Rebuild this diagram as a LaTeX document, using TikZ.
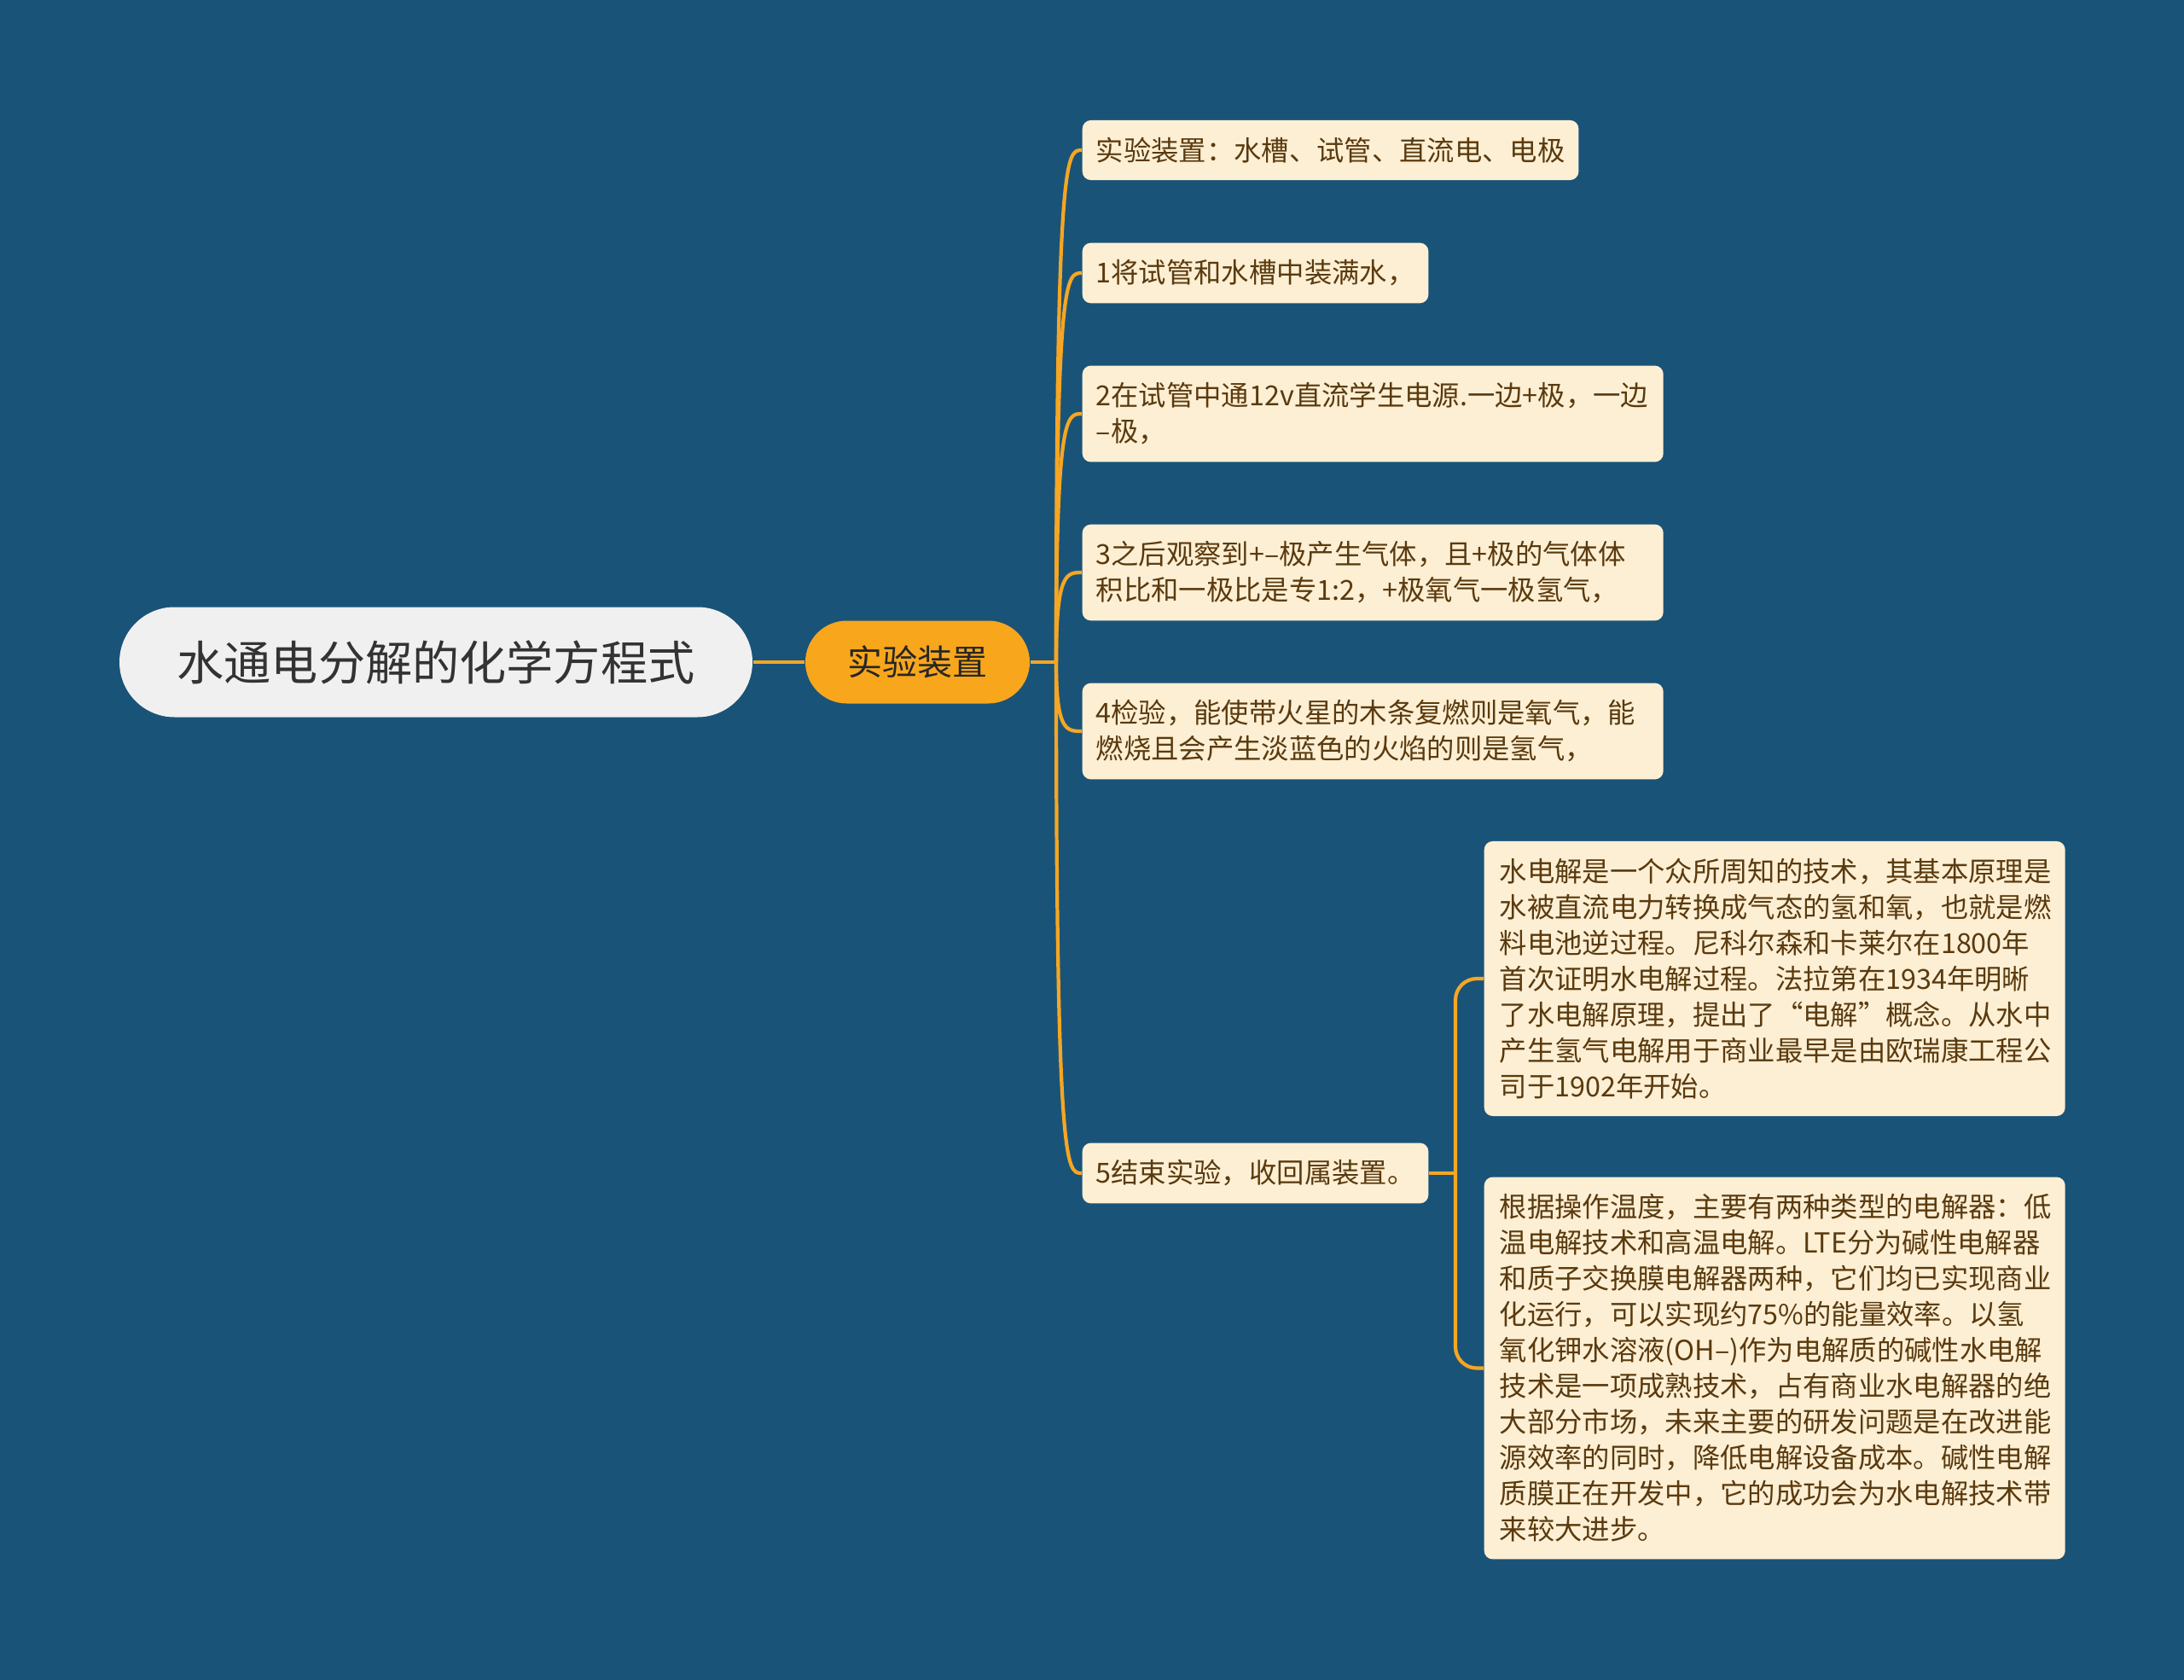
\documentclass[tikz,border=0pt]{standalone}
\usepackage{fontspec}
\setmainfont{Noto Sans CJK SC}
\usepackage{tikz}
\usepackage{xcolor}
\definecolor{bgblue}{HTML}{1A5378}
\definecolor{branch}{HTML}{F5A623}
\definecolor{leaffill}{HTML}{FDEFD4}
\definecolor{leaftext}{HTML}{5A3A0E}
\definecolor{rootfill}{HTML}{F0F0F0}
\definecolor{mainfill}{HTML}{F8A61C}
\tikzset{
    root-box/.style = {fill=rootfill, text=black!80, rectangle, rounded corners=0.645cm, minimum width=7.42cm, minimum height=1.29cm, font=\fontsize{15.7}{18}\selectfont},
    main-box/.style = {fill=mainfill, text=black!85, rectangle, rounded corners=0.485cm, minimum width=2.63cm, minimum height=0.97cm, font=\fontsize{11.7}{14}\selectfont},
    leaf-box/.style = {fill=leaffill, text=leaftext, rectangle, rounded corners=0.1cm, inner xsep=0.16cm, inner ysep=0.2cm, anchor=west, align=left, font=\fontsize{9.2}{11.95}\selectfont},
    note-box/.style = {leaf-box, inner xsep=0.18cm, text width=6.45cm},
    link/.style = {draw=branch, line width=1.2pt},
}

\begin{document}
\begin{tikzpicture}
\fill[bgblue] (0,0) rectangle (25.6,-19.69);
\useasboundingbox (0,0) rectangle (25.6,-19.69);

\node[root-box] (root) at (5.11,-7.76) {水通电分解的化学方程式};
\node[main-box] (main) at (10.755,-7.76) {实验装置};
\coordinate (hub) at (12.38,-7.76);

\node[leaf-box] (c1) at (12.68,-1.76) {实验装置：水槽、试管、直流电、电极};
\node[leaf-box] (c2) at (12.68,-3.20) {1将试管和水槽中装满水，};
\node[leaf-box, text width=6.49cm] (c3) at (12.68,-4.85) {2在试管中通12v直流学生电源.一边+极，一边\\–极，};
\node[leaf-box, text width=6.49cm] (c4) at (12.68,-6.71) {3之后观察到+–极产生气体，且+极的气体体\\积比和一极比是专1:2，+极氧气一极氢气，};
\node[leaf-box, text width=6.49cm] (c5) at (12.68,-8.57) {4检验，能使带火星的木条复燃则是氧气，能\\燃烧且会产生淡蓝色的火焰的则是氢气，};
\node[leaf-box] (c6) at (12.68,-13.75) {5结束实验，收回属装置。};
\coordinate (hub2) at (17.06,-13.75);

\node[note-box] (g1) at (17.39,-11.47) {水电解是一个众所周知的技术，其基本原理是\\水被直流电力转换成气态的氢和氧，也就是燃\\料电池逆过程。尼科尔森和卡莱尔在1800年\\首次证明水电解过程。法拉第在1934年明晰\\了水电解原理，提出了“电解”概念。从水中\\产生氢气电解用于商业最早是由欧瑞康工程公\\司于1902年开始。};
\node[note-box] (g2) at (17.39,-16.035) {根据操作温度，主要有两种类型的电解器：低\\温电解技术和高温电解。LTE分为碱性电解器\\和质子交换膜电解器两种，它们均已实现商业\\化运行，可以实现约75\%的能量效率。以氢\\氧化钾水溶液(OH–)作为电解质的碱性水电解\\技术是一项成熟技术，占有商业水电解器的绝\\大部分市场，未来主要的研发问题是在改进能\\源效率的同时，降低电解设备成本。碱性电解\\质膜正在开发中，它的成功会为水电解技术带\\来较大进步。};

\draw[link, line width=1.4pt] (root.east) -- (main.west);
\draw[link] (main.east) -- (hub);
\foreach \n in {c1,c2,c3,c4,c5,c6}
    \draw[link] (hub) .. controls (hub |- \n.west) and ([xshift=-0.18cm]\n.west) .. (\n.west);
\draw[link] (c6.east) -- (hub2);
\foreach \n in {g1,g2}
    \draw[link, rounded corners=0.25cm] (hub2) |- (\n.west);
\end{tikzpicture}
\end{document}
